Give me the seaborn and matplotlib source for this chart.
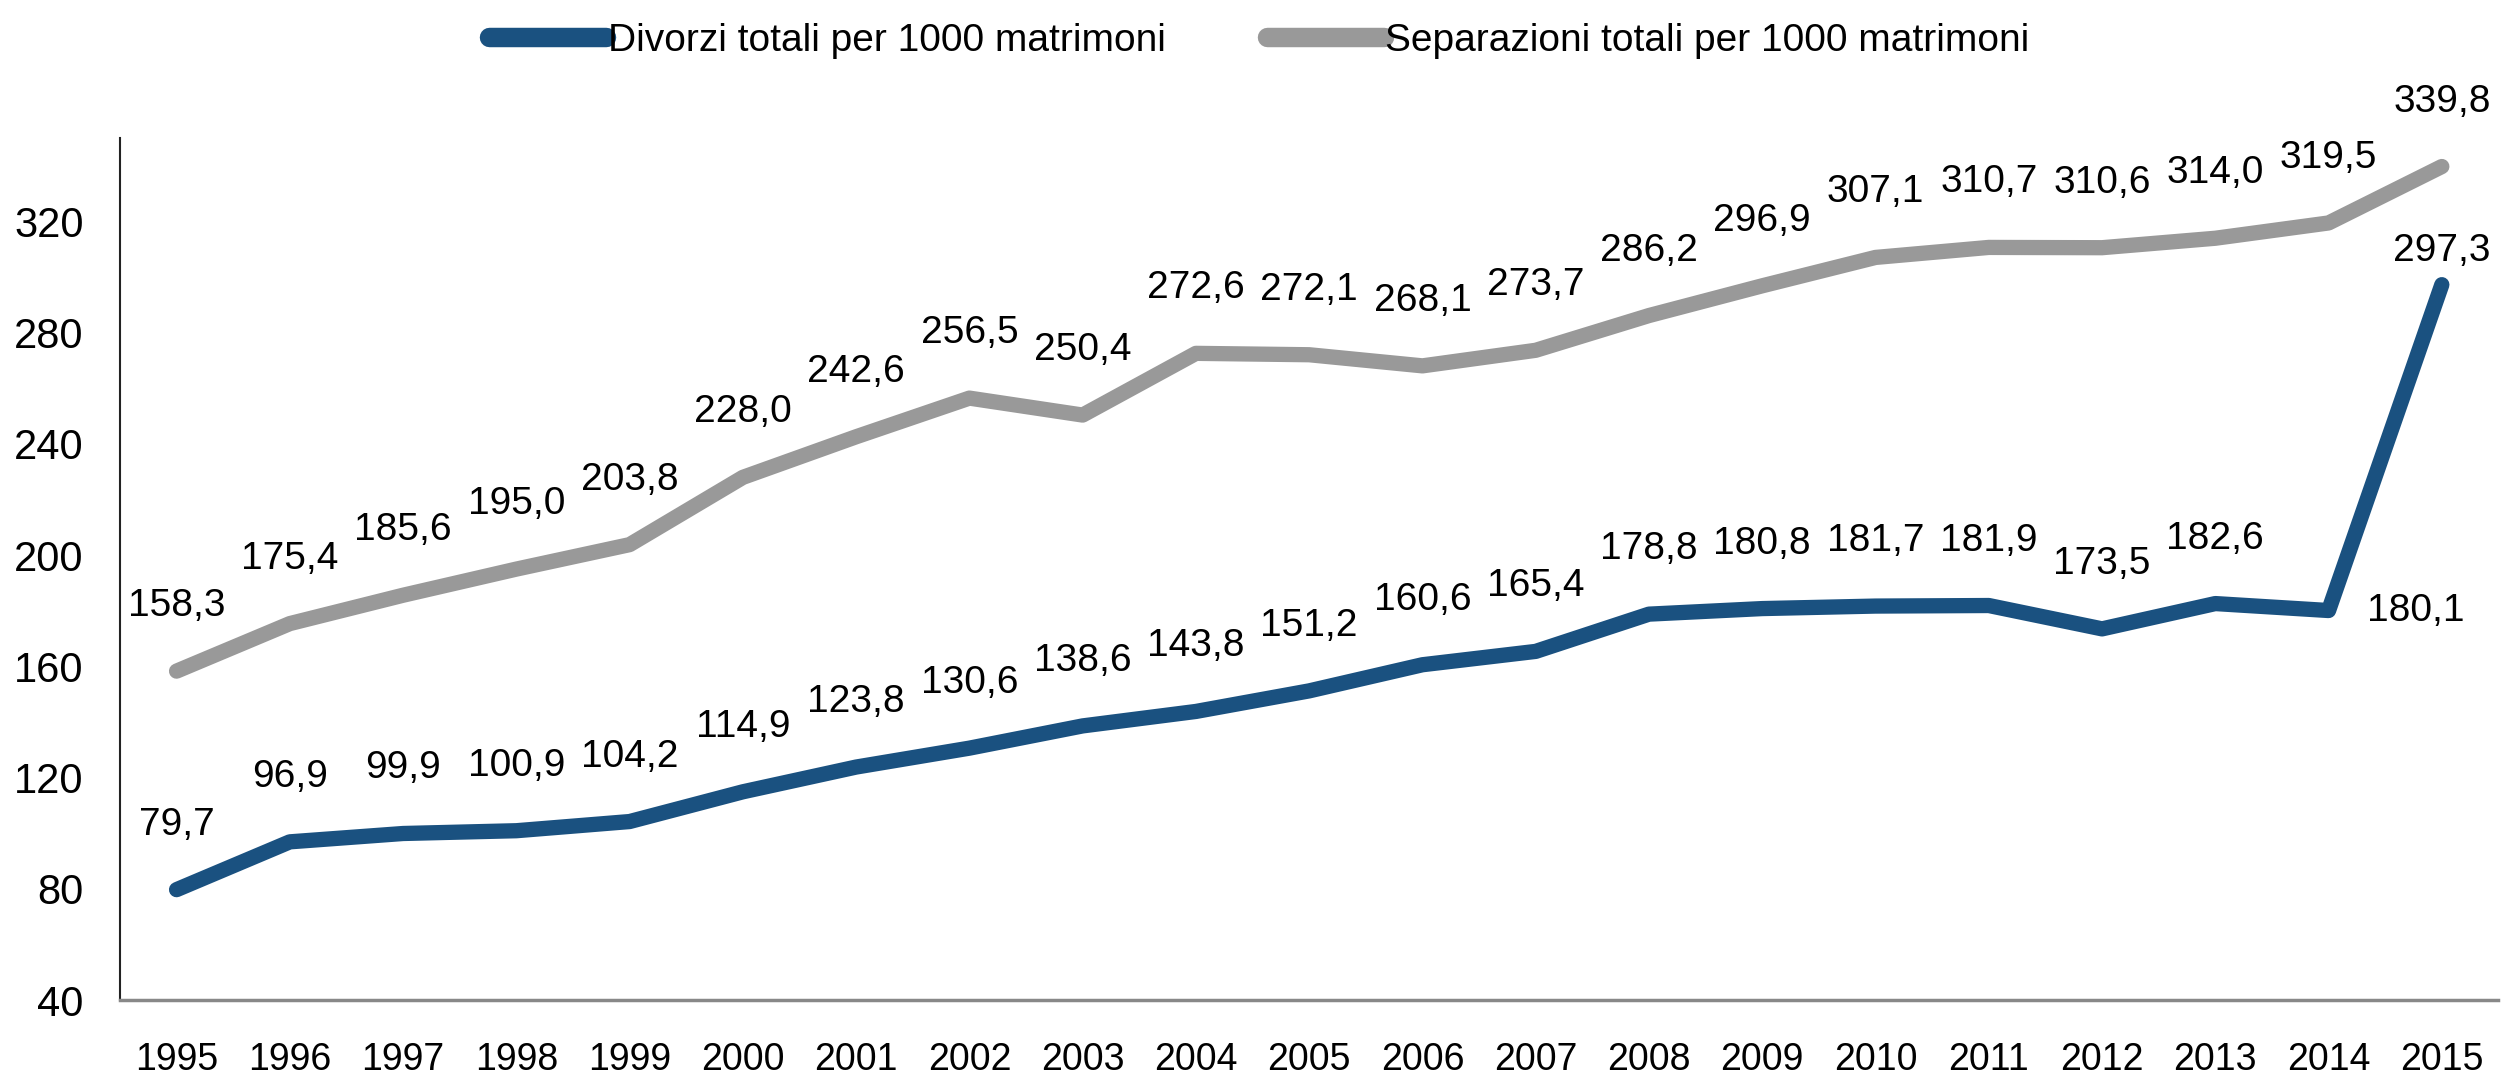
import matplotlib
matplotlib.use("Agg")
import matplotlib.pyplot as plt
import seaborn as sns
import pandas as pd
from matplotlib.font_manager import FontProperties

# ---------------------------------------------------------------------------
# Data
# ---------------------------------------------------------------------------
anni = list(range(1995, 2016))
divorzi = [79.7, 96.9, 99.9, 100.9, 104.2, 114.9, 123.8, 130.6, 138.6, 143.8,
           151.2, 160.6, 165.4, 178.8, 180.8, 181.7, 181.9, 173.5, 182.6, 180.1,
           297.3]
separazioni = [158.3, 175.4, 185.6, 195.0, 203.8, 228.0, 242.6, 256.5, 250.4,
               272.6, 272.1, 268.1, 273.7, 286.2, 296.9, 307.1, 310.7, 310.6,
               314.0, 319.5, 339.8]
serie = ["Divorzi totali per 1000 matrimoni",
         "Separazioni totali per 1000 matrimoni"]
y_ticks = [40, 80, 120, 160, 200, 240, 280, 320]

BLU = "#1a5180"
GRIGIO = "#999999"

df = pd.DataFrame({
    "pos": list(range(len(anni))) * 2,
    "valore": divorzi + separazioni,
    "serie": [serie[0]] * len(anni) + [serie[1]] * len(anni),
})

sns.set_style("white")
plt.rcParams["font.family"] = ["Liberation Sans", "DejaVu Sans"]
plt.rcParams["text.color"] = "black"
plt.rcParams["xtick.color"] = "black"
plt.rcParams["ytick.color"] = "black"

fig = plt.figure(figsize=(25.09, 10.76), dpi=100)
ax = fig.add_axes([0.0478, 0.0706, 0.948, 0.801])

sns.lineplot(data=df, x="pos", y="valore", hue="serie", hue_order=serie,
             palette=[BLU, GRIGIO], linewidth=11, solid_capstyle="round",
             legend=False, ax=ax)

ax.set_xlim(-0.5, 20.5)
ax.set_ylim(40, 350)
ax.set_yticks(y_ticks)
ax.set_yticklabels([str(t) for t in y_ticks], fontsize=30)
ax.set_xticks(range(len(anni)))
ax.set_xticklabels([str(a) for a in anni], fontsize=27)
ax.tick_params(axis="x", length=0, pad=30)
ax.tick_params(axis="y", length=0, pad=26)
ax.set_xlabel("")
ax.set_ylabel("")

for s in ["top", "right"]:
    ax.spines[s].set_visible(False)
ax.spines["left"].set_color("#222222")
ax.spines["left"].set_linewidth(1.5)
ax.spines["bottom"].set_color("#888888")
ax.spines["bottom"].set_linewidth(2.5)

# etichette dei valori (virgola decimale)
def fmt(v):
    return f"{v:.1f}".replace(".", ",")

for valori in (divorzi, separazioni):
    for i, v in enumerate(valori):
        if valori is divorzi and anni[i] == 2014:
            # a destra del punto, per non finire sulla linea
            ax.annotate(fmt(v), (i, v), xytext=(38, 0), textcoords="offset pixels",
                        ha="left", va="center", fontsize=28)
        elif valori is divorzi and anni[i] == 2015:
            ax.annotate(fmt(v), (i, v), xytext=(0, 24), textcoords="offset pixels",
                        ha="center", va="baseline", fontsize=28)
        else:
            ax.annotate(fmt(v), (i, v), xytext=(0, 55), textcoords="offset pixels",
                        ha="center", va="baseline", fontsize=28)

# legenda
leg = fig.legend(handles=ax.lines[:2], labels=serie, loc="center",
                 bbox_to_anchor=(0.502, 0.962), ncol=2, frameon=False,
                 prop=FontProperties(size=28),
                 handlelength=3.0, handletextpad=0.05, columnspacing=2.6)
for line in leg.get_lines():
    line.set_linewidth(14)
    line.set_solid_capstyle("round")

fig.savefig("out.png", dpi=100)
